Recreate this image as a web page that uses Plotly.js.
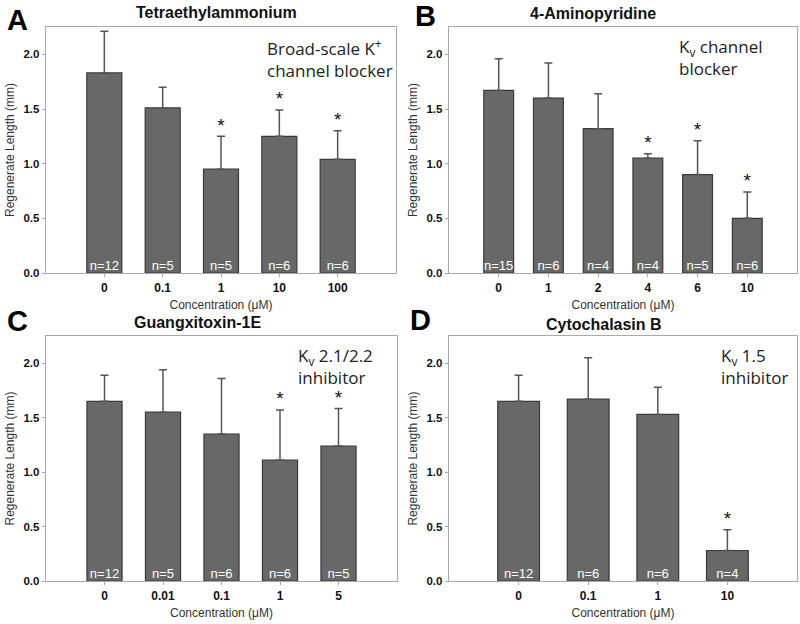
<!DOCTYPE html>
<html>
<head>
<meta charset="utf-8">
<script src="https://cdn.plot.ly/plotly-3.0.1.min.js"></script>
<style>
  html, body { margin: 0; padding: 0; background: #fff; }
  #chart { width: 800px; height: 624px; }
</style>
</head>
<body>
<div id="chart"></div>
<script>
// Panel A: Tetraethylammonium
const concA = ['0', '0.1', '1', '10', '100'];
const meanA = [1.83, 1.51, 0.95, 1.25, 1.04];
const errA = [0.38, 0.19, 0.30, 0.24, 0.26];
const nA = [12, 5, 5, 6, 6];
const sigA = [false, false, true, true, true];

// Panel B: 4-Aminopyridine
const concB = ['0', '1', '2', '4', '6', '10'];
const meanB = [1.67, 1.60, 1.32, 1.05, 0.90, 0.50];
const errB = [0.29, 0.32, 0.32, 0.04, 0.31, 0.24];
const nB = [15, 6, 4, 4, 5, 6];
const sigB = [false, false, false, true, true, true];

// Panel C: Guangxitoxin-1E
const concC = ['0', '0.01', '0.1', '1', '5'];
const meanC = [1.65, 1.55, 1.35, 1.11, 1.24];
const errC = [0.24, 0.39, 0.51, 0.46, 0.345];
const nC = [12, 5, 6, 6, 5];
const sigC = [false, false, false, true, true];

// Panel D: Cytochalasin B
const concD = ['0', '0.1', '1', '10'];
const meanD = [1.65, 1.67, 1.53, 0.28];
const errD = [0.24, 0.38, 0.25, 0.19];
const nD = [12, 6, 6, 4];
const sigD = [false, false, false, true];

const titles = ['Tetraethylammonium', '4-Aminopyridine', 'Guangxitoxin-1E', 'Cytochalasin B'];
const letters = ['A', 'B', 'C', 'D'];
const notes = [
    'Broad-scale K<sup>+</sup><br>channel blocker',
    'K<sub>v</sub> channel<br>blocker',
    'K<sub>v</sub> 2.1/2.2<br>inhibitor',
    'K<sub>v</sub> 1.5<br>inhibitor'
];

const FONT = 'Liberation Sans, Arial, sans-serif';
const panels = [
    { cats: concA, mean: meanA, err: errA, n: nA, sig: sigA },
    { cats: concB, mean: meanB, err: errB, n: nB, sig: sigB },
    { cats: concC, mean: meanC, err: errC, n: nC, sig: sigC },
    { cats: concD, mean: meanD, err: errD, n: nD, sig: sigD }
];

// pixel boxes of each plot frame [left, right, top, bottom]
const boxes = [[46, 396, 27, 273], [449, 797, 27, 273], [46, 397, 336, 581], [449, 797, 336, 581]];
const W = 800, H = 624;

const data = [];
const layout = {
    width: W, height: H,
    margin: { l: 0, r: 0, t: 0, b: 0 },
    paper_bgcolor: '#ffffff',
    plot_bgcolor: '#ffffff',
    showlegend: false,
    font: { family: FONT, color: '#111' },
    annotations: []
};

panels.forEach((p, i) => {
    const k = i === 0 ? '' : String(i + 1);
    const xa = 'x' + k, ya = 'y' + k;
    const b = boxes[i];
    const off = b[0] < 400 ? 0 : 400;

    data.push({
        type: 'bar', x: p.cats, y: p.mean, xaxis: xa, yaxis: ya,
        width: 0.6,
        marker: { color: '#686868', line: { color: '#3a3a3a', width: 1.2 } },
        error_y: {
            type: 'data', symmetric: false, array: p.err,
            arrayminus: p.err.map(() => 0),
            color: '#555555', thickness: 1.5, width: 4
        },
        hoverinfo: 'skip'
    });

    // n= labels at the bottom of the bars
    data.push({
        type: 'scatter', mode: 'text', x: p.cats, y: p.cats.map(() => 0),
        xaxis: xa, yaxis: ya,
        text: p.n.map(v => 'n=' + v), textposition: 'top center',
        textfont: { family: FONT, size: 13, color: '#ffffff' },
        hoverinfo: 'skip'
    });

    // asterisks above significant bars
    const sx = [], sy = [];
    p.cats.forEach((c, j) => { if (p.sig[j]) { sx.push(c); sy.push(p.mean[j] + p.err[j]); } });
    data.push({
        type: 'scatter', mode: 'text', x: sx, y: sy, xaxis: xa, yaxis: ya,
        text: sx.map(() => '*'), textposition: 'top center',
        textfont: { family: FONT, size: 19, color: '#111' },
        hoverinfo: 'skip'
    });

    layout['xaxis' + k] = {
        domain: [b[0] / W, b[1] / W],
        anchor: ya, type: 'category',
        range: [-1, p.cats.length],
        showline: true, mirror: true, linecolor: '#a8a8a8', linewidth: 1.3,
        ticks: 'outside', ticklen: 3, tickcolor: '#a8a8a8',
        showgrid: false, zeroline: false,
        tickfont: { family: FONT, size: 12, color: '#111', weight: 'bold' },
        title: { text: 'Concentration (μM)', font: { family: FONT, size: 12, color: '#333' }, standoff: 7 }
    };
    layout['yaxis' + k] = {
        domain: [1 - b[3] / H, 1 - b[2] / H],
        anchor: xa,
        range: [0, 2.25],
        tickvals: [0, 0.5, 1, 1.5, 2], tickformat: '.1f',
        showline: true, mirror: true, linecolor: '#a8a8a8', linewidth: 1.3,
        ticks: 'outside', ticklen: 3, tickcolor: '#a8a8a8',
        showgrid: false, zeroline: false,
        tickfont: { family: FONT, size: 11.5, color: '#111', weight: 'bold' },
        title: { text: 'Regenerate Length (mm)', font: { family: FONT, size: 12, color: '#333' }, standoff: 6 }
    };

    // panel title
    layout.annotations.push({
        xref: 'paper', yref: 'paper',
        x: (off + [216, 193, 197, 204][i]) / W,
        y: 1 - ([12, 13, 322, 324][i]) / H,
        xanchor: 'center', yanchor: 'middle', showarrow: false,
        text: '<b>' + titles[i] + '</b>',
        font: { family: FONT, size: 16, color: '#111' }
    });
    // panel letter
    layout.annotations.push({
        xref: 'paper', yref: 'paper',
        x: (off + [5, 13, 5, 8][i]) / W,
        y: 1 - ([20, 16, 321, 320][i]) / H,
        xanchor: 'left', yanchor: 'middle', showarrow: false,
        text: '<b>' + letters[i] + '</b>',
        font: { family: FONT, size: 29, color: '#000' }
    });
    // inset note
    layout.annotations.push({
        xref: 'paper', yref: 'paper',
        x: (off + [265, 277, 296, 319][i]) / W,
        y: 1 - (b[2] + 6) / H,
        xanchor: 'left', yanchor: 'top', align: 'left', showarrow: false,
        text: notes[i],
        font: { family: 'Open Sans, sans-serif', size: 17, color: '#222' }
    });
});

Plotly.newPlot('chart', data, layout, { staticPlot: true });
</script>
</body>
</html>
